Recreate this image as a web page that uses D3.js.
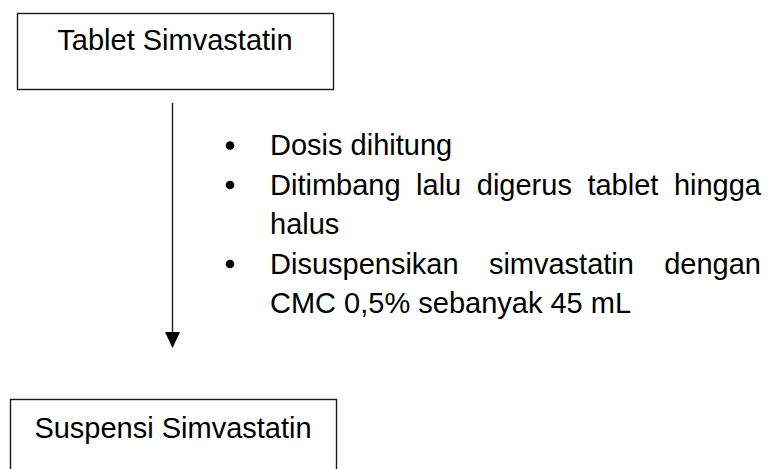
<!DOCTYPE html>
<html>
<head>
<meta charset="utf-8">
<script src="https://cdn.jsdelivr.net/npm/d3@7"></script>
<style>
  body { margin: 0; background: #fff; }
  svg { display: block; }
  text { font-family: "Liberation Sans", Arial, sans-serif; fill: #000; }
</style>
</head>
<body>
<svg width="772" height="469"></svg>
<script>
// flow steps (top box -> bottom box)
const steps = ['Tablet Simvastatin', 'Suspensi Simvastatin']
// bullet points, already split in lines as in the document
const bullets = [
  ['Dosis dihitung'],
  ['Ditimbang lalu digerus tablet hingga', 'halus'],
  ['Disuspensikan simvastatin dengan', 'CMC 0,5% sebanyak 45 mL']
]

const svg = d3.select('svg')
const fontSize = 29
const stroke = '#1a1a1a'

// boxes
const boxes = [
  { x: 17, y: 13, w: 316, h: 76, ty: 50 },
  { x: 10, y: 399, w: 326, h: 120, ty: 438 }
]
const boxG = svg.selectAll('g.box')
  .data(steps)
  .join('g')
  .attr('class', 'box')

boxG.append('rect')
  .attr('x', (d, i) => boxes[i].x + 0.5)
  .attr('y', (d, i) => boxes[i].y + 0.5)
  .attr('width', (d, i) => boxes[i].w)
  .attr('height', (d, i) => boxes[i].h)
  .attr('fill', 'none')
  .attr('stroke', stroke)
  .attr('stroke-width', 1.4)

boxG.append('text')
  .attr('x', (d, i) => boxes[i].x + boxes[i].w / 2)
  .attr('y', (d, i) => boxes[i].ty)
  .attr('text-anchor', 'middle')
  .style('font-size', fontSize + 'px')
  .text(d => d)

// arrow
const arrowX = 172.5
svg.append('line')
  .attr('x1', arrowX).attr('x2', arrowX)
  .attr('y1', 103).attr('y2', 334)
  .attr('stroke', stroke)
  .attr('stroke-width', 1.4)
svg.append('path')
  .attr('d', d3.line()([[arrowX - 7.5, 332], [arrowX + 7.5, 332], [arrowX, 348]]) + 'Z')
  .attr('fill', '#000')

// bullet list with justified lines
const bulletX = 230
const textX = 270
const textRight = 761
const lineH = 39.5
let lineIdx = 0
const listG = svg.append('g')

bullets.forEach(lines => {
  const firstY = 155 + lineIdx * lineH
  listG.append('circle')
    .attr('cx', bulletX)
    .attr('cy', firstY - 9.5)
    .attr('r', 4.3)
    .attr('fill', '#000')

  lines.forEach((line, j) => {
    const y = 155 + lineIdx * lineH
    const last = j === lines.length - 1
    const words = line.split(' ')
    const g = listG.append('g')
    const ws = g.selectAll('text')
      .data(words)
      .join('text')
      .attr('y', y)
      .style('font-size', fontSize + 'px')
      .text(d => d)
    const lens = ws.nodes().map(n => n.getComputedTextLength())
    const total = d3.sum(lens)
    const space = fontSize * 0.278
    const gap = (!last && words.length > 1)
      ? (textRight - textX - total) / (words.length - 1)
      : space
    let x = textX
    ws.attr('x', (d, k) => {
      const px = x
      x += lens[k] + gap
      return px
    })
    lineIdx++
  })
})
</script>
</body>
</html>
